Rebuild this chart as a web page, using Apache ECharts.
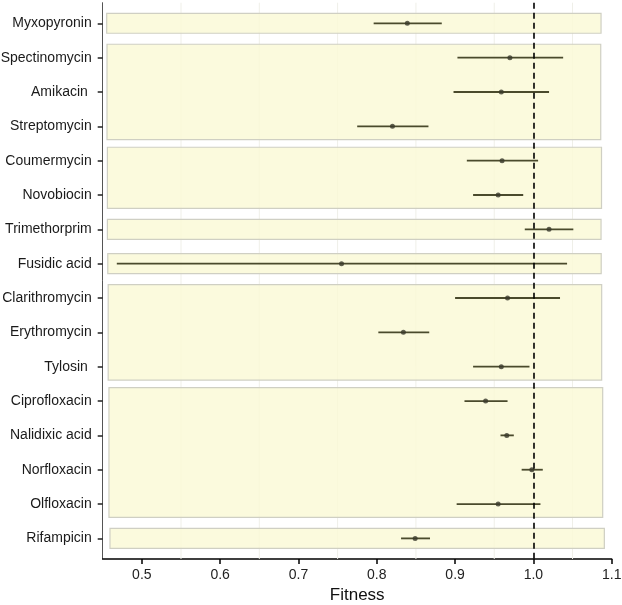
<!DOCTYPE html>
<html>
<head>
<meta charset="utf-8">
<script src="https://cdn.jsdelivr.net/npm/echarts@6/dist/echarts.min.js"></script>
<style>html,body{margin:0;padding:0;background:#fff;}#c{width:622px;height:605px;}</style>
</head>
<body>
<div id="c"></div>
<script>
const categories = ["Myxopyronin","Spectinomycin","Amikacin ","Streptomycin","Coumermycin","Novobiocin","Trimethorprim","Fusidic acid","Clarithromycin","Erythromycin","Tylosin ","Ciprofloxacin","Nalidixic acid","Norfloxacin","Olfloxacin","Rifampicin"];
const fitness = [0.839,0.970,0.959,0.820,0.960,0.955,1.020,0.755,0.967,0.834,0.959,0.939,0.966,0.998,0.955,0.849];
const lower   = [0.796,0.903,0.898,0.775,0.915,0.923,0.989,0.468,0.900,0.802,0.923,0.912,0.958,0.985,0.902,0.831];
const upper   = [0.883,1.038,1.020,0.866,1.006,0.987,1.051,1.043,1.034,0.867,0.995,0.967,0.975,1.012,1.009,0.868];
// drug-class panels: first index, last index, left, right
const groupStart = [0,1,4,6,7,8,11,15];
const groupEnd   = [0,3,5,6,7,10,14,15];
const groupLeft  = [0.4551,0.4555,0.4560,0.4560,0.4565,0.4570,0.4580,0.4593];
const groupRight = [1.0864,1.0860,1.0870,1.0864,1.0866,1.0872,1.0885,1.0906];
const xTicks = [0.5,0.6,0.7,0.8,0.9,1.0,1.1];
const xMinorGrid = [0.55,0.65,0.75,0.85,0.95,1.05];
const referenceFitness = 1.0;

const chart = echarts.init(document.getElementById('c'), null, {renderer:'canvas'});
const yIdx = categories.map((_, i) => i);
const panelData = groupStart.map((s, k) => [s, groupEnd[k], groupLeft[k], groupRight[k]]);
const barData = categories.map((_, i) => [lower[i], upper[i], i]);
const pointData = categories.map((_, i) => [fitness[i], i]);
const font = 'Liberation Sans, Arial, Helvetica, sans-serif';

chart.setOption({
  animation: false,
  grid: {left: 102.7, right: 10.3, top: 2.7, bottom: 46, containLabel: false, outerBoundsMode: 'none'},
  xAxis: {
    type: 'value', min: 0.45, max: 1.1,
    axisLine: {show: true, onZero: false, lineStyle: {color: '#000', width: 1.5}},
    axisTick: {show: true, length: 5, customValues: xTicks, lineStyle: {color: '#000', width: 1.5}},
    axisLabel: {customValues: xTicks, formatter: v => v.toFixed(1), fontSize: 14, color: '#222', fontFamily: font, margin: 9},
    splitLine: {show: false},
    name: 'Fitness', nameLocation: 'middle', nameGap: 23,
    nameTextStyle: {fontSize: 17, color: '#111', fontFamily: font}
  },
  yAxis: {
    type: 'value', min: -0.6, max: 15.6, inverse: true,
    axisLine: {show: true, onZero: false, lineStyle: {color: '#555', width: 1}},
    axisTick: {show: true, length: 5, customValues: yIdx, lineStyle: {color: '#222', width: 1.5}},
    axisLabel: {customValues: yIdx, formatter: v => categories[Math.round(v)], fontSize: 14, color: '#1a1a1a', fontFamily: font, margin: 11},
    splitLine: {show: false}
  },
  series: [
    {
      type: 'custom', z: 1, silent: true,
      data: xMinorGrid.map(v => [v]),
      renderItem: (params, api) => {
        const p1 = api.coord([api.value(0), -0.6]);
        const p2 = api.coord([api.value(0), 15.6]);
        return {type: 'line', shape: {x1: p1[0], y1: p1[1], x2: p2[0], y2: p2[1]}, style: {stroke: '#efefe8', lineWidth: 1}};
      }
    },
    {
      type: 'custom', z: 2, silent: true,
      data: panelData,
      renderItem: (params, api) => {
        const s = api.value(0), e = api.value(1);
        const pad = (s === e) ? 0.29 : 0.39;
        const p1 = api.coord([api.value(2), s - pad]);
        const p2 = api.coord([api.value(3), e + pad]);
        return {type: 'rect', shape: {x: p1[0], y: p1[1], width: p2[0] - p1[0], height: p2[1] - p1[1]},
          style: {fill: 'rgba(250,249,215,0.85)', stroke: '#cfcfc3', lineWidth: 1.2}};
      }
    },
    {
      type: 'custom', z: 3, silent: true,
      data: barData,
      renderItem: (params, api) => {
        const p1 = api.coord([api.value(0), api.value(2)]);
        const p2 = api.coord([api.value(1), api.value(2)]);
        return {type: 'line', shape: {x1: p1[0], y1: p1[1], x2: p2[0], y2: p2[1]}, style: {stroke: '#4a4a2c', lineWidth: 1.8}};
      }
    },
    {
      type: 'scatter', z: 4, silent: true,
      data: pointData, symbolSize: 5,
      itemStyle: {color: '#38382a'},
      markLine: {
        silent: true, symbol: 'none', label: {show: false},
        lineStyle: {color: '#000', width: 1.6, type: [6, 4]},
        data: [{xAxis: referenceFitness}]
      }
    }
  ]
});
</script>
</body>
</html>
